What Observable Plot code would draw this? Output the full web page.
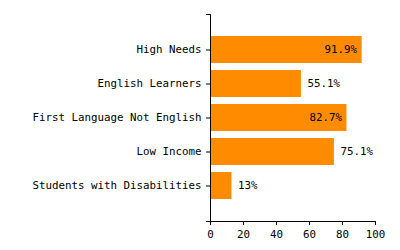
<!DOCTYPE html>
<html>
<head>
<meta charset="utf-8">
<script src="https://cdn.jsdelivr.net/npm/d3@7"></script>
<script src="https://cdn.jsdelivr.net/npm/@observablehq/plot@0.6"></script>
<style>
  html, body { margin: 0; padding: 0; background: #fff; }
</style>
</head>
<body>
<div id="chart"></div>
<script>
const categories = ["High Needs", "English Learners", "First Language Not English", "Low Income", "Students with Disabilities"];
const values = [91.9, 55.1, 82.7, 75.1, 13];
const xTicks = [0, 20, 40, 60, 80, 100];

const data = categories.map((c, i) => ({category: c, value: values[i], label: `${values[i]}%`}));
const inside = data.filter(d => d.value >= 80);
const outside = data.filter(d => d.value < 80);

const W = 400, H = 250, ML = 210, MR = 25, MT = 14, MB = 29;
const plotWidth = W - ML - MR;

const chart = Plot.plot({
  width: W,
  height: H,
  marginLeft: ML,
  marginRight: MR,
  marginTop: MT,
  marginBottom: MB,
  style: {fontFamily: "'DejaVu Sans Mono', monospace", fontSize: "10.8px", color: "#000", background: "#fff"},
  x: {domain: [0, 100], ticks: xTicks, label: null, tickSize: 4},
  y: {domain: categories, paddingInner: 0.2, paddingOuter: 0.6, label: null, tickSize: 4},
  marks: [
    Plot.barX(data, {y: "category", x: "value", fill: "#ff8c00"}),
    Plot.text(inside, {y: "category", x: "value", text: "label", textAnchor: "end", dx: -5, fill: "#000"}),
    Plot.text(outside, {y: "category", x: "value", text: "label", textAnchor: "start", dx: 6, fill: "#000"}),
    Plot.frame({anchor: "left", stroke: "#000"}),
    Plot.frame({anchor: "bottom", stroke: "#000", insetLeft: -4}),
    Plot.frame({anchor: "top", stroke: "#000", insetLeft: -4, insetRight: plotWidth})
  ]
});
document.getElementById("chart").appendChild(chart);
</script>
</body>
</html>
